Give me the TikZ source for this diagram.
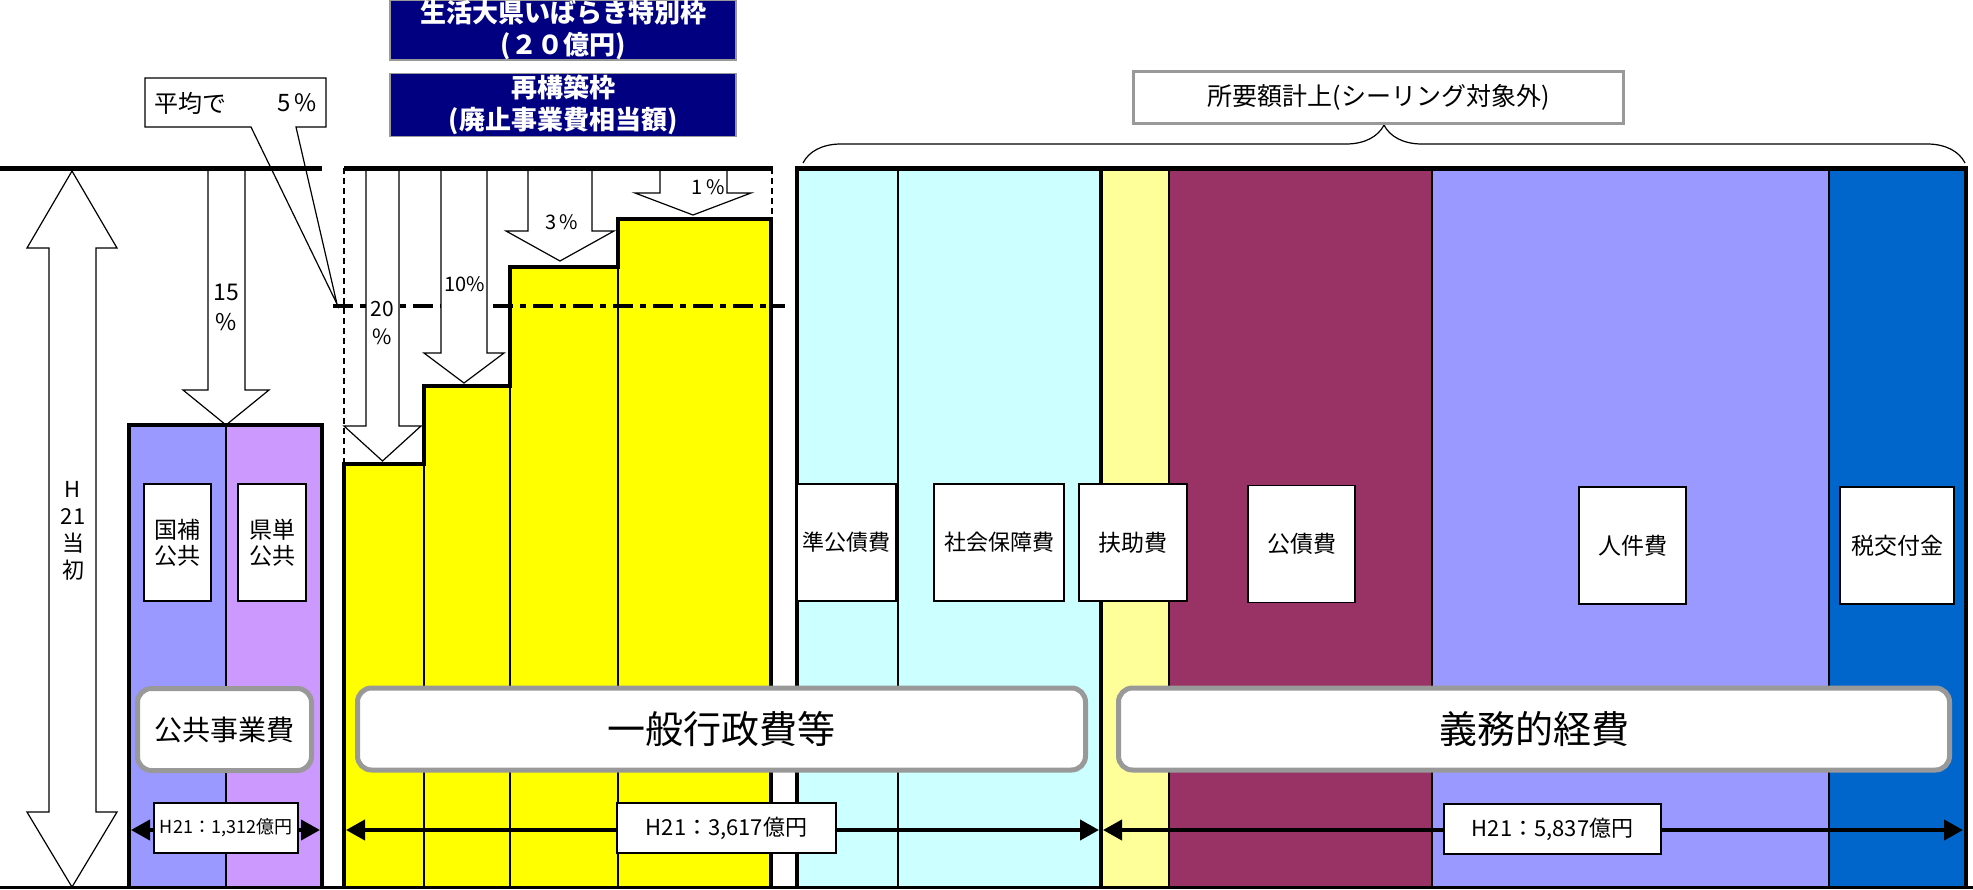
\documentclass[tikz,border=0pt]{standalone}
\usepackage{fontspec}
\setmainfont{Noto Sans CJK JP}
\usepackage{xcolor}
\usetikzlibrary{arrows.meta,decorations.pathreplacing}

\definecolor{navyfill}{HTML}{000080}
\definecolor{stepyellow}{HTML}{FFFF00}
\definecolor{kokuhoblue}{HTML}{9999FF}
\definecolor{kentanpurple}{HTML}{CC99FF}
\definecolor{junkocyan}{HTML}{CCFFFF}
\definecolor{fujoyellow}{HTML}{FFFF99}
\definecolor{kosaimaroon}{HTML}{993366}
\definecolor{zeikoblue}{HTML}{0066CC}
\definecolor{framegray}{HTML}{999999}

\begin{document}
\begin{tikzpicture}[x=1pt,y=-1pt,
  blockarrow/.style={draw=black,fill=white,line width=1.2pt,line join=miter},
  itembox/.style={draw=black,fill=white,line width=1.5pt,inner sep=0pt,
    minimum width=#1,minimum height=117pt,align=center,
    font=\fontsize{23}{26}\selectfont},
  groupbox/.style={draw=framegray,fill=white,line width=5pt,rounded corners=14pt,
    minimum width=#1,minimum height=82pt,inner sep=0pt},
  amountbox/.style={draw=black,fill=white,line width=1.5pt,inner sep=0pt,
    minimum width=#1,minimum height=50pt,font=\fontsize{22}{26}\selectfont},
  amountarrow/.style={line width=4pt,>={Triangle[length=19pt,width=20pt]},<->},
  navybox/.style={draw=framegray,fill=navyfill,line width=1.2pt,text=white,inner sep=0pt,
    minimum width=346pt,align=center,font=\bfseries\fontsize{26}{32}\selectfont},
  pcttext/.style={align=center,inner sep=0pt,font=\fontsize{20}{29}\selectfont}]

\useasboundingbox (0,0) rectangle (1973,889);

\pgfmathsetmacro{\ytop}{168}
\pgfmathsetmacro{\ybot}{887}
\pgfmathsetmacro{\yamt}{830}

% Column fills
\fill[kokuhoblue] (129,425) rectangle (226,\ybot);
\fill[kentanpurple] (226,425) rectangle (322,\ybot);
\draw[line width=1.2pt] (226,425) -- (226,\ybot);

\fill[stepyellow] (344,\ybot) -- (344,464) -- (424,464) -- (424,386) -- (510,386)
  -- (510,267) -- (618,267) -- (618,219) -- (771,219) -- (771,\ybot) -- cycle;
\foreach \x/\y in {424/464, 510/386, 618/267}
  \draw[line width=1.2pt] (\x,\y) -- (\x,\ybot); % Step divider

\foreach \xa/\xb/\col in {797/898/junkocyan, 898/1101/junkocyan, 1101/1169/fujoyellow,
  1169/1432/kosaimaroon, 1432/1829/kokuhoblue, 1829/1966/zeikoblue}
{
  \fill[\col] (\xa,\ytop) rectangle (\xb,\ybot);
  \draw[line width=1.2pt] (\xa,\ytop) -- (\xa,\ybot);
}
\foreach \x in {797,1101,1966}
  \draw[line width=4pt] (\x,\ytop) -- (\x,\ybot);

% Average line
\draw[line width=4pt,dash pattern=on 20pt off 7pt on 6pt off 7pt] (333,306) -- (785,306);

% Cut arrows
\foreach \sl/\sr/\hl/\hr/\yb/\yt in {208/245/183/269/390/425, 366/399/344/421/426/461,
  441/487/424/504/353/383, 528/592/506/614/231/261, 660/727/635/751/193/215}
{
  \draw[blockarrow] (\sl,\ytop) -- (\sl,\yb) -- (\hl,\yb) -- ({(\hl+\hr)/2},\yt)
    -- (\hr,\yb) -- (\sr,\yb) -- (\sr,\ytop);
}

% H21 double arrow
\draw[blockarrow] (72,171) -- (117,248) -- (96,248) -- (96,812) -- (117,812) -- (72,887)
  -- (27,812) -- (49,812) -- (49,248) -- (27,248) -- cycle;
\node[align=center,inner sep=0pt,font=\fontsize{22}{27}\selectfont] (h21text) at (73,531)
  {H\\21\\当\\初};

% Callout
\draw[fill=white,line width=1.2pt] (145,78) -- (326,78) -- (326,127) -- (296,127)
  -- (337,304) -- (251,127) -- (145,127) -- cycle;
\node[inner sep=0pt,font=\fontsize{24}{28}\selectfont] (avgtext) at (190,103) {平均で};
\node[inner sep=0pt,font=\fontsize{24}{28}\selectfont] (avgpct) at (297,103) {5\,\%};

% Ceiling lines
\draw[line width=5pt] (0,\ytop) -- (322,\ytop);
\draw[line width=5pt] (344,\ytop) -- (773,\ytop);
\draw[line width=5pt] (795,\ytop) -- (1968,\ytop);
\draw[line width=1.5pt,dash pattern=on 6pt off 4pt] (344,\ytop) -- (344,464);
\draw[line width=1.5pt,dash pattern=on 6pt off 4pt] (772,\ytop) -- (772,219);

% Outlines
\draw[line width=4pt] (344,\ybot) -- (344,464) -- (424,464) -- (424,386) -- (510,386)
  -- (510,267) -- (618,267) -- (618,219) -- (771,219) -- (771,\ybot);
\draw[line width=4pt] (129,\ybot) -- (129,425) -- (322,425) -- (322,\ybot);

% Percent labels
\node[pcttext,font=\fontsize{23}{30}\selectfont] (pct15) at (226,307) {15\\\%};
\node[pcttext,font=\fontsize{21}{28}\selectfont] (pct20) at (382,323) {20\\\%};
\node[pcttext] (pct10) at (465,284) {10\%};
\node[pcttext] (pct3) at (562,222) {3\,\%};
\node[pcttext] (pct1) at (708,187) {1\,\%};

% Frames at the top
\node[navybox,minimum height=60pt] (tokubetsu) at (563,30) {生活大県いばらき特別枠\\(２０億円)};
\node[navybox,minimum height=63pt] (saikochiku) at (563,105) {再構築枠\\(廃止事業費相当額)};

\draw[line width=1.2pt,decorate,decoration={brace,amplitude=38pt,aspect=0.5}]
  (803,163) -- (1965,163);
\node[draw=framegray,fill=white,line width=3pt,minimum width=490pt,minimum height=52pt,
  inner sep=0pt,font=\fontsize{25}{28}\selectfont] (ceiling) at (1378.5,97.5)
  {所要額計上(シーリング対象外)};

% Item labels
\node[itembox=67pt] (kokuho) at (177.5,542.5) {国補\\公共};
\node[itembox=68pt] (kentan) at (272,542.5) {県単\\公共};
\node[itembox=99pt,font=\fontsize{22}{26}\selectfont] (junkosai) at (846.5,542.5) {準公債費};
\node[itembox=130pt,font=\fontsize{22}{26}\selectfont] (shakai) at (999,542.5) {社会保障費};
\node[itembox=108pt] (fujo) at (1133,542.5) {扶助費};
\node[itembox=107pt] (kosai) at (1301.5,544) {公債費};
\node[itembox=107pt] (jinken) at (1632.5,545.5) {人件費};
\node[itembox=114pt] (zeiko) at (1897,545.5) {税交付金};

% Group labels
\node[groupbox=174pt,font=\fontsize{28}{32}\selectfont] (kokyo) at (224.5,729.5) {公共事業費};
\node[groupbox=728pt,font=\fontsize{38}{42}\selectfont] (ippan) at (721.5,729) {一般行政費等};
\node[groupbox=831pt,font=\fontsize{38}{42}\selectfont] (gimu) at (1534,729) {義務的経費};

% Amounts
\coordinate (kokyoL) at (131,\yamt);
\coordinate (kokyoR) at (320,\yamt);
\coordinate (ippanL) at (346,\yamt);
\coordinate (ippanR) at (1099,\yamt);
\coordinate (gimuL) at (1103,\yamt);
\coordinate (gimuR) at (1963,\yamt);
\draw[amountarrow] (kokyoL) -- (kokyoR);
\draw[amountarrow] (ippanL) -- (ippanR);
\draw[amountarrow] (gimuL) -- (gimuR);
\node[amountbox=144pt,font=\fontsize{18}{22}\selectfont] (kokyoamt) at (226,828) {H21：1,312億円};
\node[amountbox=219pt] (ippanamt) at (726.5,828) {H21：3,617億円};
\node[amountbox=217pt] (gimuamt) at (1552.5,829) {H21：5,837億円};

% Base line
\draw[line width=3pt] (0,\ybot) -- (1973,\ybot);

\end{tikzpicture}
\end{document}
